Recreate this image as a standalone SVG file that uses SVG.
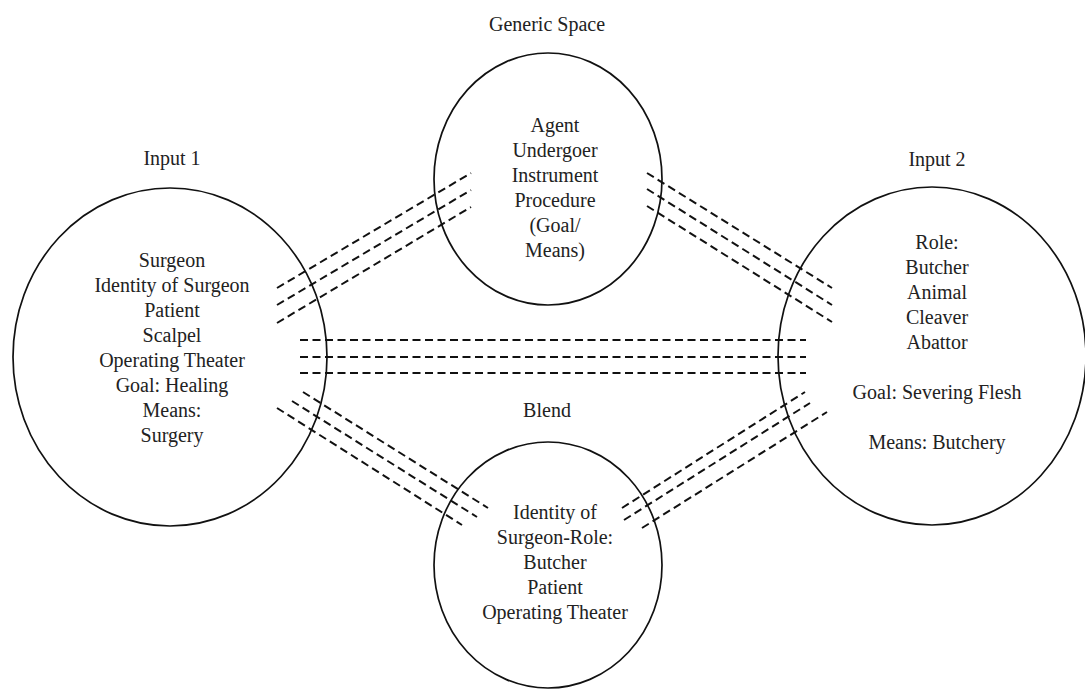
<svg xmlns="http://www.w3.org/2000/svg" width="1085" height="690" viewBox="0 0 1085 690">
<style>
.space{fill:none;stroke:#111;stroke-width:1.7}
.t{font-family:"Liberation Serif","DejaVu Serif",serif;font-size:20px;fill:#222;text-anchor:middle}
.d{stroke:#111;stroke-width:2;stroke-dasharray:8 4.5;fill:none}
</style>
<rect width="1085" height="690" fill="#fff"/>
<g id="connectors">
<line class="d" x1="277" y1="288" x2="471" y2="173"/>
<line class="d" x1="277" y1="305" x2="471" y2="190"/>
<line class="d" x1="277" y1="323" x2="471" y2="207"/>
<line class="d" x1="647" y1="173" x2="832" y2="288"/>
<line class="d" x1="647" y1="189" x2="832" y2="305"/>
<line class="d" x1="647" y1="206" x2="832" y2="322"/>
<line class="d" x1="300" y1="340" x2="806" y2="340"/>
<line class="d" x1="300" y1="357" x2="806" y2="357"/>
<line class="d" x1="300" y1="373" x2="806" y2="373"/>
<line class="d" x1="303" y1="392" x2="488" y2="508"/>
<line class="d" x1="292" y1="401" x2="477" y2="517"/>
<line class="d" x1="277" y1="408" x2="462" y2="525"/>
<line class="d" x1="622" y1="508" x2="805" y2="392"/>
<line class="d" x1="624" y1="520" x2="810" y2="403"/>
<line class="d" x1="642" y1="528" x2="827" y2="412"/>
</g>
<g id="input1">
<ellipse class="space" cx="170" cy="357" rx="157" ry="169"/>
<text class="t" x="172" y="165">Input 1</text>
<text class="t" x="172" y="267">Surgeon</text>
<text class="t" x="172" y="292">Identity of Surgeon</text>
<text class="t" x="172" y="317">Patient</text>
<text class="t" x="172" y="342">Scalpel</text>
<text class="t" x="172" y="367">Operating Theater</text>
<text class="t" x="172" y="392">Goal: Healing</text>
<text class="t" x="172" y="417">Means:</text>
<text class="t" x="172" y="442">Surgery</text>
</g>
<g id="generic">
<ellipse class="space" cx="548" cy="179" rx="114" ry="126"/>
<text class="t" x="547" y="31">Generic Space</text>
<text class="t" x="555" y="132">Agent</text>
<text class="t" x="555" y="157">Undergoer</text>
<text class="t" x="555" y="182">Instrument</text>
<text class="t" x="555" y="207">Procedure</text>
<text class="t" x="555" y="232">(Goal/</text>
<text class="t" x="555" y="257">Means)</text>
</g>
<g id="input2">
<ellipse class="space" cx="932" cy="356" rx="154" ry="169"/>
<text class="t" x="937" y="166">Input 2</text>
<text class="t" x="937" y="249">Role:</text>
<text class="t" x="937" y="274">Butcher</text>
<text class="t" x="937" y="299">Animal</text>
<text class="t" x="937" y="324">Cleaver</text>
<text class="t" x="937" y="349">Abattor</text>
<text class="t" x="937" y="399">Goal: Severing Flesh</text>
<text class="t" x="937" y="449">Means: Butchery</text>
</g>
<g id="blend">
<ellipse class="space" cx="548" cy="565" rx="114" ry="123"/>
<text class="t" x="547" y="417">Blend</text>
<text class="t" x="555" y="519">Identity of</text>
<text class="t" x="555" y="544">Surgeon-Role:</text>
<text class="t" x="555" y="569">Butcher</text>
<text class="t" x="555" y="594">Patient</text>
<text class="t" x="555" y="619">Operating Theater</text>
</g>
</svg>
